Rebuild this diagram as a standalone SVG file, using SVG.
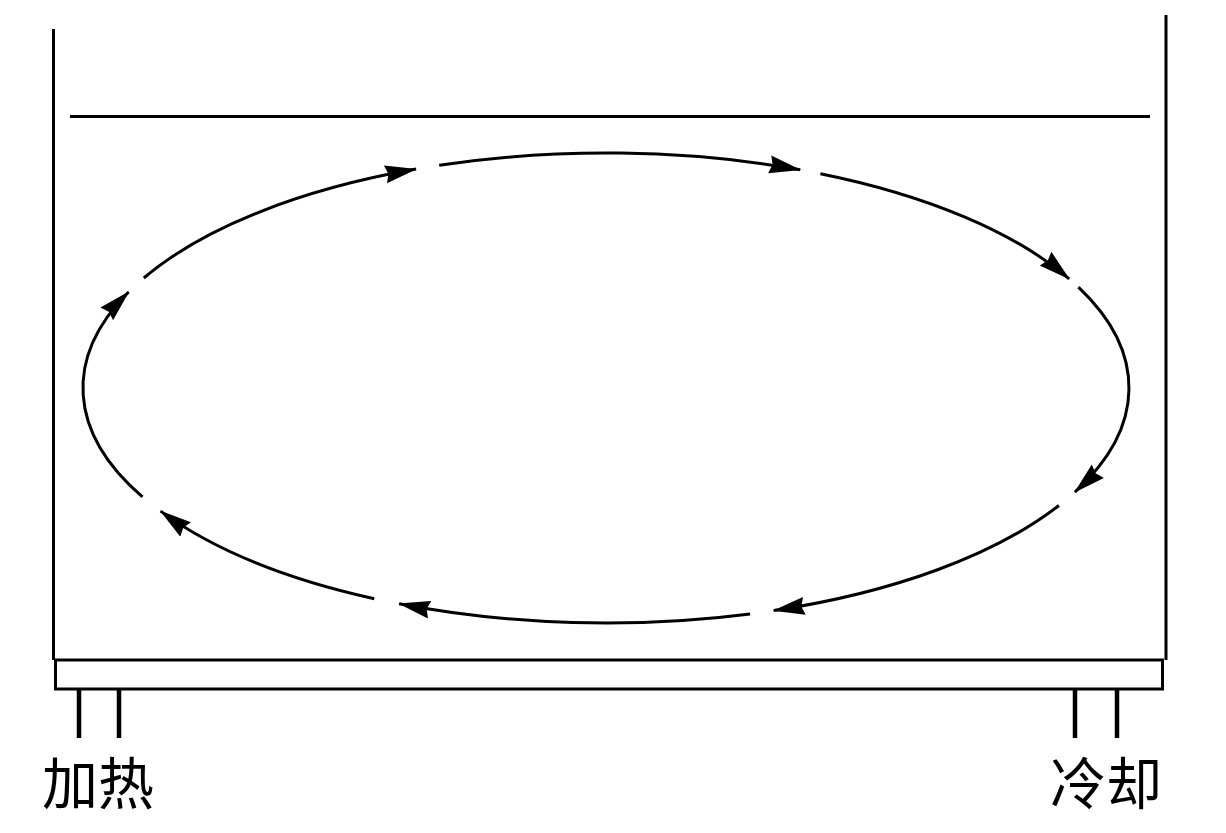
<svg xmlns="http://www.w3.org/2000/svg" width="1226" height="833" viewBox="0 0 1226 833">
<style>
.wall{stroke:#000;stroke-width:3;fill:none;stroke-linecap:butt}
.leg{stroke:#000;stroke-width:4.5;fill:none}
.flow{stroke:#000;stroke-width:3;fill:none;marker-end:url(#ah)}
.lbl{font-family:"Noto Sans CJK SC","Noto Sans CJK JP",sans-serif;font-size:56px;fill:#000}
</style>
<defs>
<marker id="ah" markerUnits="userSpaceOnUse" markerWidth="32" markerHeight="20" viewBox="0 0 32 20" refX="31" refY="10" orient="auto">
<path d="M0,1 L32,10 L0,19 L3,10 z" fill="#000"/>
</marker>
</defs>
<rect width="1226" height="833" fill="#fff"/>
<g id="container">
<line class="wall" x1="53.5" y1="29" x2="53.5" y2="660"/>
<line class="wall" x1="1166" y1="15" x2="1166" y2="660"/>
<line class="wall" x1="70" y1="116.5" x2="1150" y2="116.5"/>
</g>
<g id="plate">
<rect x="55.5" y="660" width="1107" height="29" fill="none" stroke="#000" stroke-width="3"/>
<line class="leg" x1="79" y1="689" x2="79" y2="738"/>
<line class="leg" x1="119" y1="689" x2="119" y2="738"/>
<line class="leg" x1="1075" y1="689" x2="1075" y2="738"/>
<line class="leg" x1="1117" y1="689" x2="1117" y2="738"/>
</g>
<g id="connectors">
<path class="flow" d="M143.8,278.0 A523,235 0 0 1 416.0,169.1"/>
<path class="flow" d="M439.2,165.3 A523,235 0 0 1 800.2,169.8"/>
<path class="flow" d="M820.4,173.7 A523,235 0 0 1 1069.1,278.8"/>
<path class="flow" d="M1078.4,287.2 A523,235 0 0 1 1074.9,492.1"/>
<path class="flow" d="M1058.9,505.5 A523,235 0 0 1 773.7,610.6"/>
<path class="flow" d="M750.1,613.9 A523,235 0 0 1 399.2,603.8"/>
<path class="flow" d="M374.3,598.7 A523,235 0 0 1 160.6,511.1"/>
<path class="flow" d="M142.5,496.9 A523,235 0 0 1 128.6,292.0"/>
</g>
<g id="label-heat"><text class="lbl" x="42" y="804">加热</text></g>
<g id="label-cool"><text class="lbl" x="1050" y="804">冷却</text></g>
</svg>
